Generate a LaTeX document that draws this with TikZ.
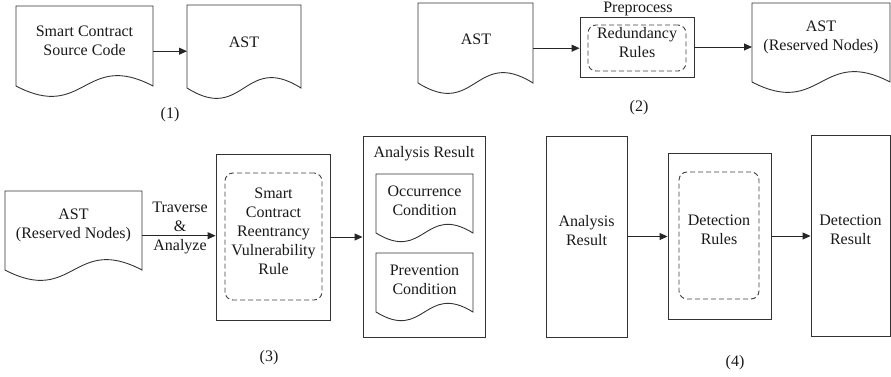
\documentclass[tikz,border=0pt]{standalone}
\usepackage{fontspec}
\setmainfont{Liberation Serif}
\usetikzlibrary{arrows.meta,fit}
% #1 node name, #2 side-end raise, #3 upper control, #4 lower control
\newcommand\docpath[4]{%
  \draw[docline] (#1.north west) -- (#1.north east) -- ([yshift=#2pt]#1.south east)
    .. controls ([yshift=#3pt]#1.south) and ([yshift=#4pt]#1.south) .. ([yshift=#2pt]#1.south west) -- cycle;}
\begin{document}
\begin{tikzpicture}[x=1pt,y=-1pt,line width=0.9pt,
  every node/.style={font=\fontsize{16}{19}\selectfont, align=center, inner sep=0pt, text=black!90},
  frame/.style={draw=none, inner sep=0pt, outer sep=0pt},
  box/.style={draw=black!80, inner sep=0pt},
  rulebox/.style={draw=black!75, dash pattern=on 5pt off 3pt, rounded corners=8pt, inner sep=0pt},
  arr/.style={draw=black!85, -{Triangle[length=8pt,width=7pt]}},
  docline/.style={draw=black!80, line join=miter}]
\useasboundingbox (0,0) rectangle (891,377);

% ---------- (1) ----------
\node[frame, fit={(16,6)(153,96.4)}] (d1) {};
\docpath{d1}{10.4}{46.4}{-25.6}
\node (t1) at (84.5,40.5) {Smart Contract\\Source Code};
\node[frame, fit={(187,5)(301,98.4)}] (d2) {};
\docpath{d2}{10.4}{46.4}{-25.6}
\node (t2) at (244,42) {AST};
\draw[arr] (d1) -- (d1 -| d2.west);
\node (l1) at (170,115) {(1)};

% ---------- (2) ----------
\node[frame, fit={(418,3)(533,93.4)}] (d3) {};
\docpath{d3}{10.4}{46.4}{-25.6}
\node (t3) at (476,39) {AST};
\node[box, fit={(580,17)(694,77)}] (b2) {};
\node[rulebox, fit={(588,25)(686,71)}] (r2) {Redundancy\\Rules};
\node[anchor=north] (pp) at (638,1.5) {Preprocess};
\node[frame, fit={(752,3)(890,92.4)}] (d4) {};
\docpath{d4}{10.4}{46.4}{-25.6}
\node (t4) at (821,37) {AST\\(Reserved Nodes)};
\draw[arr] (d3) -- (d3 -| b2.west);
\draw[arr] (b2) -- (b2 -| d4.west);
\node (l2) at (639,108) {(2)};

% ---------- (3) ----------
\node[frame, fit={(5,191)(142,280.4)}] (d5) {};
\docpath{d5}{10.4}{46.4}{-25.6}
\node (t5) at (73.5,225.5) {AST\\(Reserved Nodes)};
\node[box, fit={(216,154)(330,320)}] (b3) {};
\node[rulebox, fit={(225,173)(322,300)}] (r3) {Smart\\Contract\\Reentrancy\\Vulnerability\\Rule};
\draw[arr] (d5) -- (d5 -| b3.west);
\node (ta) at (180,228) {Traverse\\\&\\Analyze};
\node[box, fit={(363,136)(485,337)}] (ar) {};
\node (at) at (424,154) {Analysis Result};
\node[frame, fit={(376,174)(473,241.7)}] (oc) {};
\docpath{oc}{8.7}{38.7}{-21.3}
\node (to) at (424.5,200.5) {Occurrence\\Condition};
\node[frame, fit={(376,253)(473,320.7)}] (pc) {};
\docpath{pc}{8.7}{38.7}{-21.3}
\node (tp) at (424.5,279.5) {Prevention\\Condition};
\draw[arr] (b3) -- (b3 -| ar.west);
\node (l3) at (269,358) {(3)};

% ---------- (4) ----------
\node[box, fit={(546,136)(627,337)}] (a4) {Analysis\\Result};
\node[box, fit={(668,153)(771,319)}] (b4) {};
\node[rulebox, fit={(679,172)(759,299)}] (r4) {Detection\\Rules};
\node[box, fit={(811,135)(890,336)}] (dr) {Detection\\Result};
\draw[arr] (a4) -- (a4 -| b4.west);
\draw[arr] (b4) -- (b4 -| dr.west);
\node (l4) at (735,363) {(4)};
\end{tikzpicture}
\end{document}
